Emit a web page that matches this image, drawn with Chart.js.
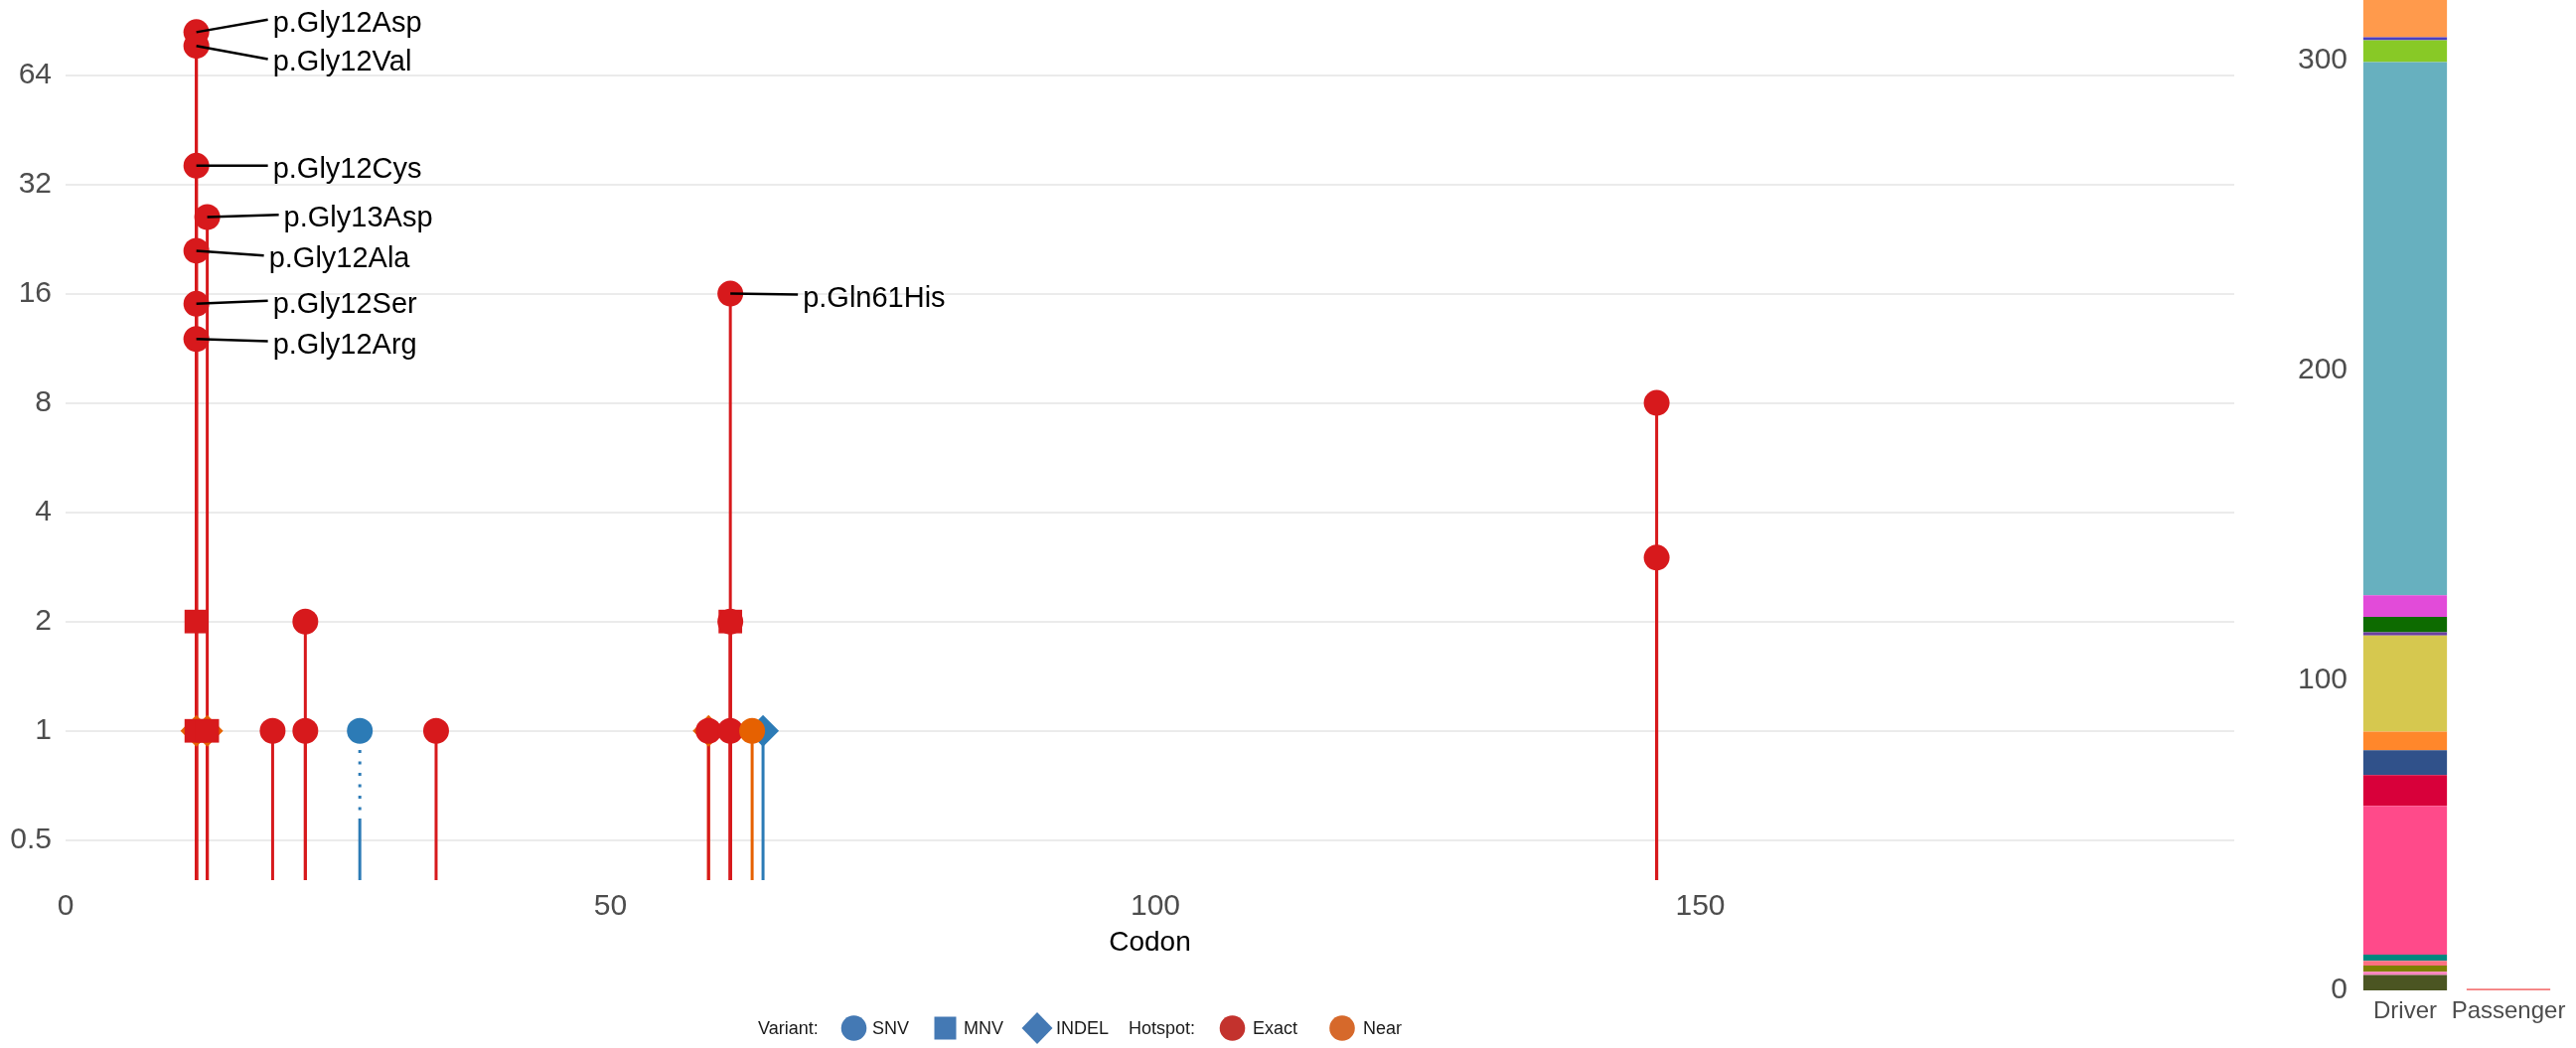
<!DOCTYPE html>
<html>
<head>
<meta charset="UTF-8">
<title>KRAS lollipop</title>
<script src="https://cdn.jsdelivr.net/npm/chart.js@4.4.1/dist/chart.umd.min.js"></script>
<style>
  body { margin: 0; background: #fff; }
  #wrap { position: relative; width: 2593px; height: 1055px; }
  #mainBox { position: absolute; left: 0; top: 0; width: 2249px; height: 1055px; }
  #barBox { position: absolute; left: 2290px; top: 0; width: 303px; height: 1055px; }
</style>
</head>
<body>
<div id="wrap">
  <div id="mainBox"><canvas id="lollipop"></canvas></div>
  <div id="barBox"><canvas id="driverBar"></canvas></div>
</div>

<script>
  // lollipop points (drawing order = layering order)
  const codons   = [12, 13, 59, 27, 64, 12, 12, 13, 61, 12, 12, 12, 13, 12, 12, 12, 19, 22, 22, 34, 59, 61, 61, 61, 146, 146, 63];
  const counts   = [1, 1, 1, 1, 1, 1, 2, 1, 2, 84, 77, 36, 26, 21, 15, 12, 1, 1, 2, 1, 1, 1, 2, 16, 8, 3, 1];
  const variants = ['INDEL', 'INDEL', 'INDEL', 'SNV', 'INDEL', 'MNV', 'MNV', 'MNV', 'MNV',
                    'SNV', 'SNV', 'SNV', 'SNV', 'SNV', 'SNV', 'SNV', 'SNV', 'SNV', 'SNV', 'SNV',
                    'SNV', 'SNV', 'SNV', 'SNV', 'SNV', 'SNV', 'SNV'];
  const hotspots = ['Near', 'Near', 'Near', 'None', 'None', 'Exact', 'Exact', 'Exact', 'Exact',
                    'Exact', 'Exact', 'Exact', 'Exact', 'Exact', 'Exact', 'Exact', 'Exact', 'Exact', 'Exact', 'Exact',
                    'Exact', 'Exact', 'Exact', 'Exact', 'Exact', 'Exact', 'Near'];
  const proteinChanges = ['', '', '', '', '', '', '', '', '',
                    'p.Gly12Asp', 'p.Gly12Val', 'p.Gly12Cys', 'p.Gly13Asp', 'p.Gly12Ala', 'p.Gly12Ser', 'p.Gly12Arg',
                    '', '', '', '', '', '', '', 'p.Gln61His', '', '', ''];

  const xTicks = [0, 50, 100, 150];
  const yTicks = [0.5, 1, 2, 4, 8, 16, 32, 64];

  // driver / passenger stacked bar
  const barCategories  = ['Driver', 'Passenger'];
  const driverSegments = [5, 1, 2, 1.5, 2, 48, 10, 8, 6, 31, 1, 5, 7, 172, 7, 1, 12];
  const passengerValue = 0.6;
  const barTicks = [0, 100, 200, 300];
</script>

<script>
  const FONT = "'Liberation Sans', Arial, Helvetica, sans-serif";
  const hotspotColor = { Exact: '#d7191c', Near: '#e66101', None: '#2c7bb6' };
  const shapeFor  = { SNV: 'circle', MNV: 'rect', INDEL: 'rectRot' };
  const radiusFor = { SNV: 13, MNV: 16.8, INDEL: 16 };
  const dottedStem = [62, 8.5, 3, 8.5, 3, 8.5, 3, 8.5, 3, 8.5, 3, 8.5, 3, 8.5, 3, 30];

  // ggrepel-ish label placement: end of leader line relative to the point
  const labelNudge = {
    'p.Gly12Asp': [72, -12.6], 'p.Gly12Val': [72, 13.3], 'p.Gly12Cys': [72, 0],
    'p.Gly13Asp': [72, -2.3], 'p.Gly12Ala': [68, 4.7], 'p.Gly12Ser': [72, -3],
    'p.Gly12Arg': [72, 2.3], 'p.Gln61His': [68, 1]
  };

  const legendItems = [
    { text: 'Variant:', tx: 763 },
    { shape: 'circle', color: '#4479b4', cx: 859.5, text: 'SNV', tx: 878 },
    { shape: 'square', color: '#4479b4', cx: 951.5, text: 'MNV', tx: 970 },
    { shape: 'diamond', color: '#4479b4', cx: 1044, text: 'INDEL', tx: 1063 },
    { text: 'Hotspot:', tx: 1136 },
    { shape: 'circle', color: '#c3322d', cx: 1240.5, text: 'Exact', tx: 1261 },
    { shape: 'circle', color: '#d6692b', cx: 1351, text: 'Near', tx: 1372 }
  ];

  const stemPlugin = {
    id: 'stems',
    beforeDatasetsDraw(chart) {
      const { ctx, chartArea, scales: { x, y } } = chart;
      ctx.save();
      ctx.lineWidth = 3;
      codons.forEach((c, i) => {
        const px = x.getPixelForValue(c);
        const py = y.getPixelForValue(counts[i]);
        ctx.strokeStyle = hotspotColor[hotspots[i]];
        ctx.setLineDash(hotspots[i] === 'None' && variants[i] === 'SNV' ? dottedStem : []);
        ctx.beginPath();
        ctx.moveTo(px, chartArea.bottom);
        ctx.lineTo(px, py);
        ctx.stroke();
      });
      ctx.restore();
    }
  };

  const labelPlugin = {
    id: 'mutLabels',
    afterDatasetsDraw(chart) {
      const { ctx, scales: { x, y } } = chart;
      ctx.save();
      ctx.font = '29px ' + FONT;
      ctx.textBaseline = 'middle';
      ctx.fillStyle = '#000';
      ctx.strokeStyle = '#000';
      ctx.lineWidth = 2.5;
      proteinChanges.forEach((lab, i) => {
        if (!lab) return;
        const px = x.getPixelForValue(codons[i]);
        const py = y.getPixelForValue(counts[i]);
        const [dx, dy] = labelNudge[lab];
        ctx.beginPath();
        ctx.moveTo(px, py);
        ctx.lineTo(px + dx, py + dy);
        ctx.stroke();
        ctx.fillText(lab, px + dx + 5, py + dy + 4);
      });
      ctx.restore();
    }
  };

  const legendPlugin = {
    id: 'shapeLegend',
    afterDraw(chart) {
      const ctx = chart.ctx;
      const cy = 1035;
      ctx.save();
      ctx.font = '18px ' + FONT;
      ctx.textBaseline = 'middle';
      legendItems.forEach(it => {
        if (it.shape) {
          ctx.fillStyle = it.color;
          ctx.beginPath();
          if (it.shape === 'circle') {
            ctx.arc(it.cx, cy, 12.8, 0, Math.PI * 2);
          } else if (it.shape === 'square') {
            ctx.rect(it.cx - 11, cy - 11.5, 22, 23);
          } else {
            ctx.moveTo(it.cx, cy - 16);
            ctx.lineTo(it.cx + 15.5, cy);
            ctx.lineTo(it.cx, cy + 16);
            ctx.lineTo(it.cx - 15.5, cy);
            ctx.closePath();
          }
          ctx.fill();
        }
        ctx.fillStyle = '#1a1a1a';
        ctx.fillText(it.text, it.tx, cy + 1);
      });
      ctx.restore();
    }
  };

  new Chart('lollipop', {
    type: 'scatter',
    data: {
      datasets: [{
        data: codons.map((c, i) => ({ x: c, y: counts[i] })),
        pointStyle: ctx => shapeFor[variants[ctx.dataIndex]],
        pointRadius: ctx => radiusFor[variants[ctx.dataIndex]],
        pointHoverRadius: ctx => radiusFor[variants[ctx.dataIndex]],
        backgroundColor: ctx => hotspotColor[hotspots[ctx.dataIndex]],
        borderWidth: 0,
        clip: false
      }]
    },
    options: {
      responsive: true,
      maintainAspectRatio: false,
      animation: false,
      events: [],
      layout: { padding: 0, autoPadding: false },
      plugins: { legend: { display: false }, tooltip: { enabled: false } },
      scales: {
        x: {
          type: 'linear', min: 0, max: 199,
          grid: { display: false, drawTicks: false },
          border: { display: false },
          afterBuildTicks: s => { s.ticks = xTicks.map(v => ({ value: v })); },
          afterFit: s => { s.height = 169; s.paddingLeft = 0; s.paddingRight = 0; },
          ticks: { font: { family: FONT, size: 30 }, color: '#4d4d4d', padding: 9, autoSkip: false, maxRotation: 0 },
          title: { display: true, text: 'Codon', font: { family: FONT, size: 28 }, color: '#000', padding: { top: 0, bottom: 89 } }
        },
        y: {
          type: 'logarithmic', min: 0.388, max: 103,
          grid: { color: '#ebebeb', lineWidth: 2, drawTicks: false },
          border: { display: false },
          afterBuildTicks: s => { s.ticks = yTicks.map(v => ({ value: v })); },
          afterFit: s => { s.width = 66; s.paddingTop = 0; s.paddingBottom = 0; },
          ticks: { font: { family: FONT, size: 30 }, color: '#4d4d4d', padding: 14, autoSkip: false, callback: v => String(v) }
        }
      }
    },
    plugins: [stemPlugin, labelPlugin, legendPlugin]
  });

  const segmentColors = ['#4b5522', '#ff82c0', '#808000', '#ff7080', '#00877f', '#ff4a8a', '#d8003a',
                         '#30518a', '#ff872b', '#d6c84f', '#6b3fa0', '#0d6b00', '#e24bd9', '#67b0bf',
                         '#88c926', '#4b3fc0', '#ff9a4c'];

  const barSets = driverSegments.map((v, i) => ({
    data: [v, 0], backgroundColor: segmentColors[i], borderWidth: 0
  }));
  barSets.push({ data: [0, passengerValue], backgroundColor: '#f47a7a', borderWidth: 0 });

  new Chart('driverBar', {
    type: 'bar',
    data: { labels: barCategories, datasets: barSets },
    options: {
      responsive: true,
      maintainAspectRatio: false,
      animation: false,
      events: [],
      layout: { padding: { right: 16 }, autoPadding: false },
      datasets: { bar: { categoryPercentage: 1, barPercentage: 0.81 } },
      plugins: { legend: { display: false }, tooltip: { enabled: false } },
      scales: {
        x: {
          stacked: true,
          grid: { display: false, drawTicks: false },
          border: { display: false },
          afterFit: s => { s.height = 58; s.paddingLeft = 0; s.paddingRight = 0; },
          ticks: { font: { family: FONT, size: 24 }, color: '#4d4d4d', padding: 7, autoSkip: false, maxRotation: 0, minRotation: 0 }
        },
        y: {
          stacked: true, min: 0, max: driverSegments.reduce((a, b) => a + b, 0),
          grid: { display: false, drawTicks: false },
          border: { display: false },
          afterBuildTicks: s => { s.ticks = barTicks.map(v => ({ value: v })); },
          afterFit: s => { s.width = 79; s.paddingTop = 0; s.paddingBottom = 0; },
          ticks: { font: { family: FONT, size: 30 }, color: '#4d4d4d', padding: 6, autoSkip: false }
        }
      }
    }
  });
</script>
</body>
</html>
